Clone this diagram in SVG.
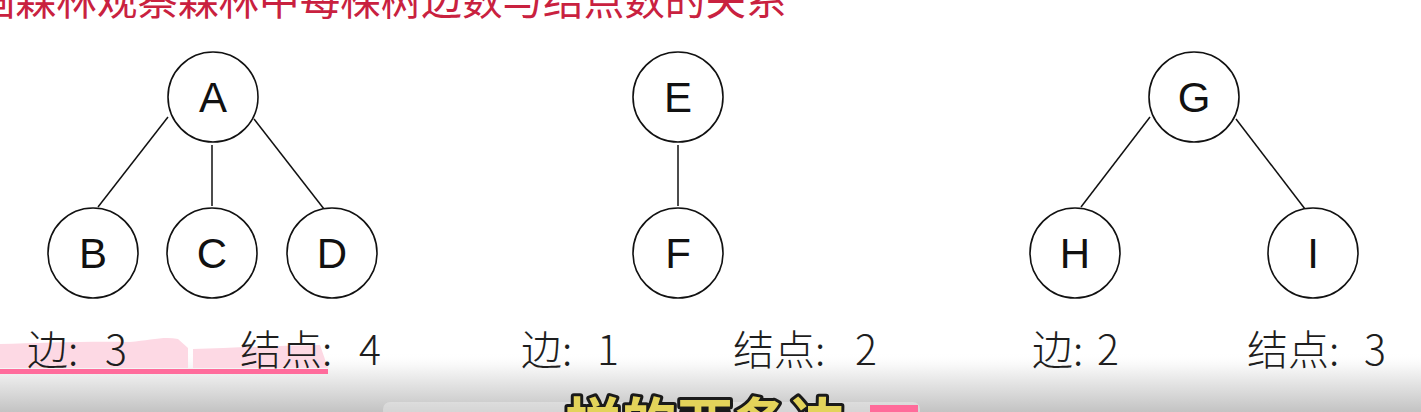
<svg xmlns="http://www.w3.org/2000/svg" width="1421" height="412" viewBox="0 0 1421 412">
  <defs>
    <linearGradient id="shade" x1="0" y1="0" x2="0" y2="1">
      <stop offset="0" stop-color="#ffffff" stop-opacity="0"/>
      <stop offset="0.3" stop-color="#f3f3f3" stop-opacity="1"/>
      <stop offset="1" stop-color="#c3c3c3" stop-opacity="1"/>
    </linearGradient>
  </defs>
  <style>
    .node circle { fill: #ffffff; stroke: #111111; stroke-width: 1.6; }
    .node text { font-family: "Liberation Sans", Arial, sans-serif; font-size: 42px; fill: #111111; text-anchor: middle; }
    .edge { stroke: #111111; stroke-width: 1.5; fill: none; }
    .label { font-family: "Noto Sans CJK SC", "Noto Sans", sans-serif; font-size: 41px; font-weight: 300; fill: #1e1e1e; }
    .title { font-family: "Noto Sans CJK SC", "Noto Sans", sans-serif; font-size: 40.6px; fill: #c9213f; }
    .sub { font-family: "Noto Sans CJK SC", sans-serif; font-size: 56px; font-weight: bold; fill: #e3d35a; stroke: #1a1a1a; stroke-width: 6; paint-order: stroke; stroke-linejoin: round; }
  </style>
  <rect width="1421" height="412" fill="#ffffff"/>

  <text class="title" x="-25" y="15">画森林观察森林中每棵树边数与结点数的关系</text>

  <g id="connectors">
    <line class="edge" x1="168" y1="117" x2="98" y2="207"/>
    <line class="edge" x1="212" y1="145" x2="212" y2="206"/>
    <line class="edge" x1="254" y1="119" x2="324" y2="209"/>
    <line class="edge" x1="678" y1="145" x2="678" y2="206"/>
    <line class="edge" x1="1150" y1="117" x2="1081" y2="207"/>
    <line class="edge" x1="1236" y1="119" x2="1305" y2="209"/>
  </g>

  <g id="node-A" class="node"><circle cx="213" cy="97" r="45"/><text x="213" y="112">A</text></g>
  <g id="node-B" class="node"><circle cx="93" cy="253" r="45"/><text x="93" y="268">B</text></g>
  <g id="node-C" class="node"><circle cx="212" cy="253" r="45"/><text x="212" y="268">C</text></g>
  <g id="node-D" class="node"><circle cx="332" cy="253" r="45"/><text x="332" y="268">D</text></g>
  <g id="node-E" class="node"><circle cx="678" cy="97" r="45"/><text x="678" y="112">E</text></g>
  <g id="node-F" class="node"><circle cx="678" cy="253" r="45"/><text x="678" y="268">F</text></g>
  <g id="node-G" class="node"><circle cx="1194" cy="97" r="45"/><text x="1194" y="112">G</text></g>
  <g id="node-H" class="node"><circle cx="1075" cy="253" r="45"/><text x="1075" y="268">H</text></g>
  <g id="node-I" class="node"><circle cx="1313" cy="253" r="45"/><text x="1313" y="268">I</text></g>

  <!-- bottom player shade -->
  <rect x="0" y="352" width="1421" height="60" fill="url(#shade)"/>

  <!-- pink highlight behind first labels -->
  <path d="M0,344 C40,343 90,341 130,342 C150,340 165,336 178,339 L188,348 L188,368 L0,368 Z" fill="#fdd9e4"/>
  <path d="M193,349 C230,348 270,346 320,345 L328,368 L193,368 Z" fill="#fdd9e4"/>

  <g id="labels">
    <text class="label" x="27" y="365">边:<tspan x="105">3</tspan></text>
    <text class="label" x="240" y="365">结点:<tspan x="359">4</tspan></text>
    <text class="label" x="521" y="365">边:<tspan x="597">1</tspan></text>
    <text class="label" x="733" y="365">结点:<tspan x="855">2</tspan></text>
    <text class="label" x="1032" y="365">边:<tspan x="1097">2</tspan></text>
    <text class="label" x="1247" y="365">结点:<tspan x="1364">3</tspan></text>
  </g>

  <rect x="0" y="369" width="328" height="5" fill="#ff6c9c"/>
  <rect x="383" y="402" width="537" height="20" rx="7" fill="#ffffff" fill-opacity="0.3"/>
  <text class="sub" x="565" y="444">样的两条边</text>
  <rect x="870" y="405" width="48" height="10" fill="#ff6b9a"/>
</svg>
